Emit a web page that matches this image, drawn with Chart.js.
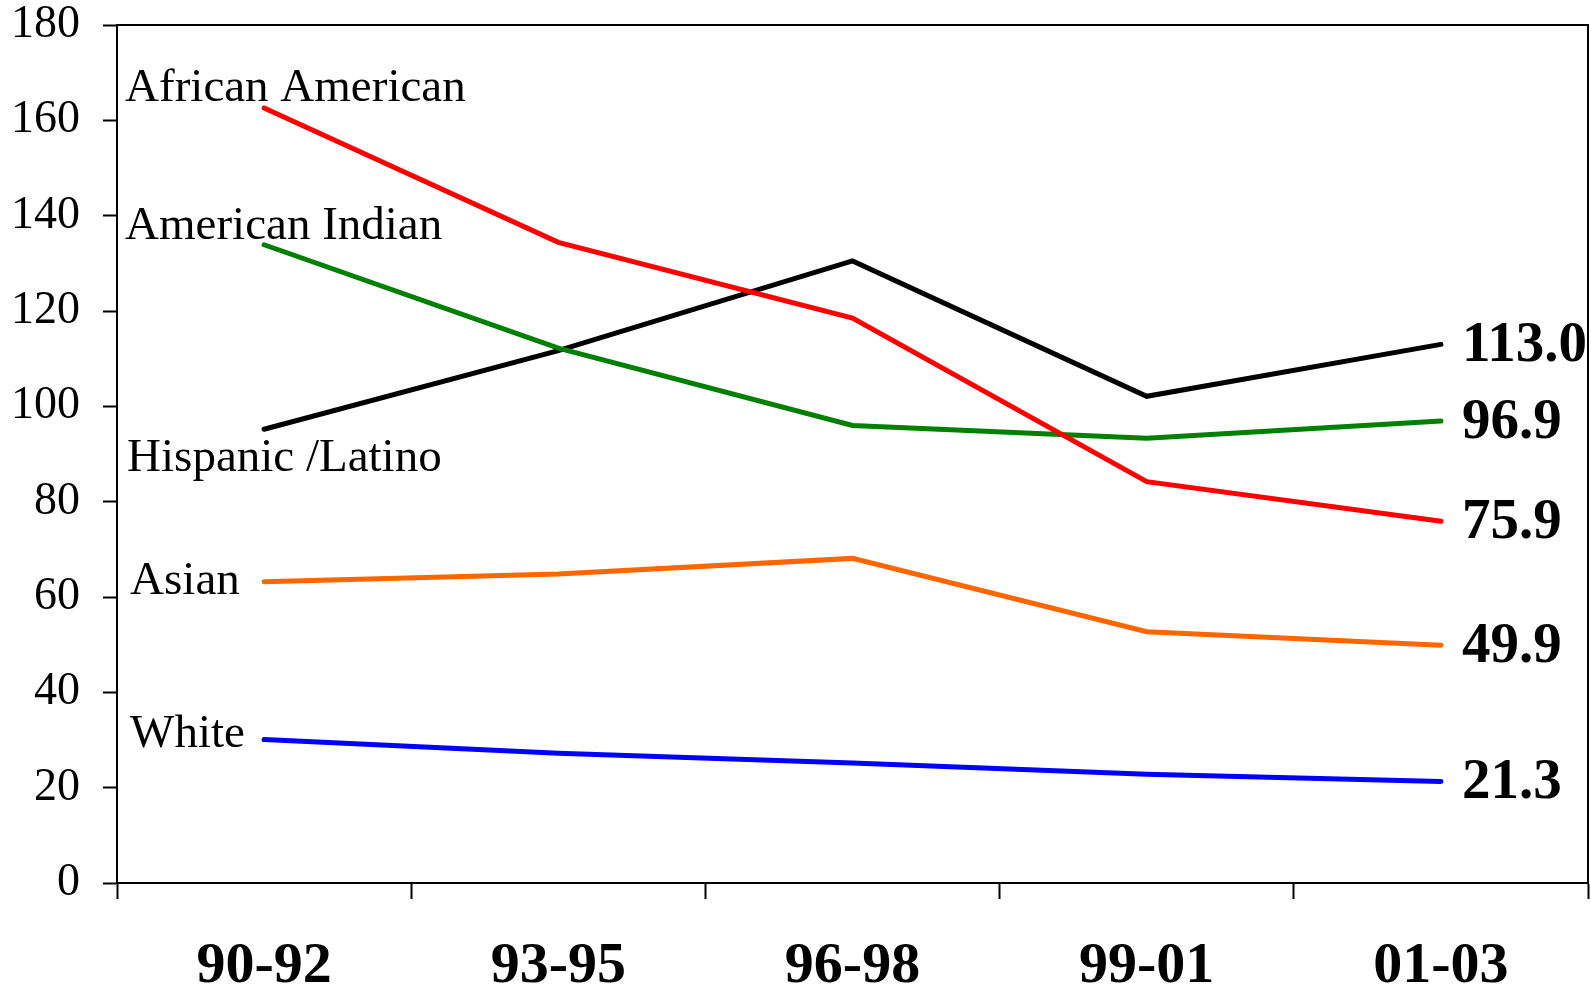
<!DOCTYPE html>
<html>
<head>
<meta charset="utf-8">
<script src="https://cdn.jsdelivr.net/npm/chart.js@4/dist/chart.umd.min.js"></script>
<style>
  html, body { margin: 0; padding: 0; background: #fff; }
  #wrap { width: 1591px; height: 988px; }
</style>
</head>
<body>
<div id="wrap"><canvas id="chart" width="1591" height="988"></canvas></div>
<script>
const periods = ['90-92', '93-95', '96-98', '99-01', '01-03'];
const africanAmerican = [162.6, 134.4, 118.5, 84.2, 75.9];
const americanIndian = [133.9, 112.2, 96.0, 93.3, 96.9];
const hispanicLatino = [95.2, 111.7, 130.5, 102.1, 113.0];
const asian = [63.2, 64.8, 68.1, 52.7, 49.9];
const white = [30.1, 27.2, 25.2, 22.8, 21.3];
const yTicks = [0, 20, 40, 60, 80, 100, 120, 140, 160, 180];

const SERIF = "'Liberation Serif', 'Times New Roman', serif";

// series name near the first point, end value next to the last point
const seriesLabels = {
  id: 'seriesLabels',
  afterDatasetsDraw(chart) {
    const ctx = chart.ctx;
    ctx.save();
    ctx.fillStyle = '#000';
    chart.data.datasets.forEach((ds, i) => {
      const pts = chart.getDatasetMeta(i).data;
      const first = pts[0];
      const last = pts[pts.length - 1];

      ctx.font = '47px ' + SERIF;
      ctx.textAlign = 'left';
      ctx.textBaseline = 'alphabetic';
      ctx.fillText(ds.label, first.x + ds.nameDx, first.y + ds.nameDy);

      ctx.font = 'bold 57px ' + SERIF;
      ctx.textBaseline = 'middle';
      const v = ds.data[ds.data.length - 1];
      ctx.fillText(v.toFixed(1), last.x + 21, last.y + 2);
    });
    ctx.restore();
  }
};

// closes the plot box on the top and right
const plotBox = {
  id: 'plotBox',
  beforeDatasetsDraw(chart) {
    const { ctx, chartArea: a } = chart;
    ctx.save();
    ctx.strokeStyle = '#000';
    ctx.lineWidth = 2;
    ctx.beginPath();
    ctx.moveTo(a.left, a.top);
    ctx.lineTo(a.right, a.top);
    ctx.lineTo(a.right, a.bottom);
    ctx.stroke();
    ctx.restore();
  }
};

function line(label, data, color, nameDx, nameDy) {
  return {
    label: label,
    data: data,
    borderColor: color,
    backgroundColor: color,
    borderWidth: 5,
    borderCapStyle: 'round',
    pointRadius: 0,
    tension: 0,
    nameDx: nameDx,
    nameDy: nameDy
  };
}

new Chart(document.getElementById('chart'), {
  type: 'line',
  data: {
    labels: periods,
    datasets: [
      line('African American', africanAmerican, '#ff0000', -139, -7),
      line('American Indian', americanIndian, '#008000', -139, -6),
      line('Hispanic /Latino', hispanicLatino, '#000000', -137, 42),
      line('Asian', asian, '#ff6600', -134, 12),
      line('White', white, '#0000ff', -134, 7)
    ]
  },
  options: {
    responsive: false,
    animation: false,
    layout: { padding: { top: 25, right: 3, left: 0, bottom: 0 } },
    plugins: {
      legend: { display: false },
      tooltip: { enabled: false }
    },
    scales: {
      x: {
        offset: true,
        grid: {
          offset: true,
          drawOnChartArea: false,
          drawTicks: true,
          tickLength: 16,
          tickColor: '#000',
          tickWidth: 2
        },
        border: { display: true, color: '#000', width: 2 },
        ticks: {
          color: '#000',
          padding: 33,
          maxRotation: 0,
          font: { family: SERIF, size: 58, weight: 'bold' }
        },
        afterFit(s) {
          s.height = 105;
          s.paddingLeft = 0;
          s.paddingRight = 0;
        }
      },
      y: {
        min: 0,
        max: 180,
        afterBuildTicks(s) { s.ticks = yTicks.map(v => ({ value: v })); },
        grid: {
          drawOnChartArea: false,
          tickLength: 14,
          tickColor: '#000',
          tickWidth: 2
        },
        border: { display: true, color: '#000', width: 2 },
        ticks: {
          color: '#000',
          padding: 23,
          font: { family: SERIF, size: 46 }
        },
        afterFit(s) {
          s.width = 117;
          s.paddingTop = 0;
          s.paddingBottom = 0;
        }
      }
    }
  },
  plugins: [plotBox, seriesLabels]
});
</script>
</body>
</html>
